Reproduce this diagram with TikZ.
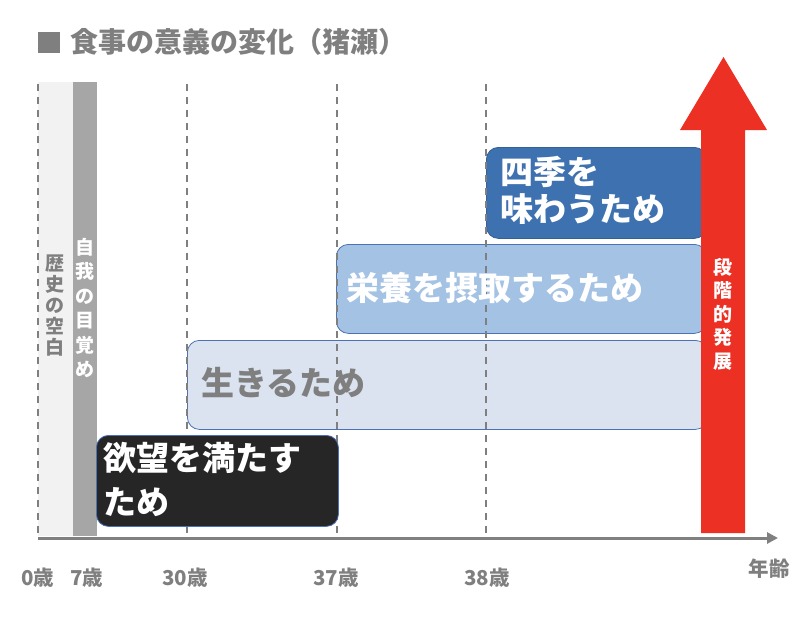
\documentclass[tikz,border=0pt]{standalone}
\usepackage{fontspec}
\setmainfont{Noto Sans CJK JP}
\usetikzlibrary{arrows.meta}
\definecolor{txtgray}{HTML}{7F7F7F}
\definecolor{stripelight}{HTML}{F2F2F2}
\definecolor{stripedark}{HTML}{A6A6A6}
\definecolor{boxdark}{HTML}{3E71B0}
\definecolor{boxmid}{HTML}{A4C2E3}
\definecolor{boxlight}{HTML}{DBE3F0}
\definecolor{boxblack}{HTML}{262626}
\definecolor{boxedge}{HTML}{4A72B5}
\definecolor{arrowred}{HTML}{EC3024}
\definecolor{axisgray}{HTML}{808080}
\tikzset{
  stagebox/.style={draw=boxedge, line width=0.8pt, rounded corners=12pt, anchor=north west, inner sep=0pt},
  boxtext/.style={anchor=west, inner sep=0pt, align=left, font=\bfseries\fontsize{33}{44}\selectfont},
  vtext/.style={align=center, inner sep=0pt, font=\bfseries\fontsize{19}{23.5}\selectfont},
  agelabel/.style={text=txtgray, inner sep=0pt, font=\bfseries\fontsize{20.5}{22}\selectfont},
  guideline/.style={draw=txtgray, line width=1.4pt, dash pattern=on 7pt off 6pt},
}
\begin{document}
\begin{tikzpicture}[x=1pt,y=-1pt]
\useasboundingbox (0,0) rectangle (800,616);
% title
\node[fill=txtgray, minimum width=22pt, minimum height=21pt, inner sep=0pt] (sq) at (49,42) {};
\node[anchor=west, inner sep=0pt, text=txtgray, font=\bfseries\fontsize{28}{30}\selectfont] (title) at (70,42) {食事の意義の変化（猪瀬）};
% stripes
\node[fill=stripelight, minimum width=35pt, minimum height=454pt, inner sep=0pt, anchor=north west] (blank) at (38,82) {};
\node[fill=stripedark, minimum width=24pt, minimum height=454pt, inner sep=0pt, anchor=north west] (self) at (73,82) {};
% light boxes
\node[stagebox, fill=boxlight, minimum width=520pt, minimum height=89pt] (live) at (187,340) {};
\node[stagebox, fill=boxmid, minimum width=370pt, minimum height=89pt] (nutri) at (336,244) {};
\node[stagebox, fill=boxdark, draw=boxdark!85!black, minimum width=220pt, minimum height=91pt] (season) at (486,147) {};
% dashed guides
\coordinate (g0t) at (38,84);  \coordinate (g0b) at (38,536);
\coordinate (g1t) at (187,84); \coordinate (g1b) at (187,536);
\coordinate (g2t) at (337,84); \coordinate (g2b) at (337,536);
\coordinate (g3t) at (486,84); \coordinate (g3b) at (486,536);
\draw[guideline] (g0t) -- (g0b);
\draw[guideline] (g1t) -- (g1b);
\draw[guideline] (g2t) -- (g2b);
\draw[guideline] (g3t) -- (g3b);
% black box
\node[stagebox, fill=boxblack, minimum width=242pt, minimum height=91pt] (desire) at (96,435) {};
% red arrow
\fill[arrowred] (701,533) -- (701,130) -- (680,130) -- (723.5,57) -- (767,130) -- (745,130) -- (745,533) -- cycle;
\coordinate (arrowmid) at (723,314);
% axis
\coordinate (axs) at (38,538);
\coordinate (axe) at (778,538);
\draw[axisgray, line width=3pt, -{Triangle[length=11pt,width=11pt]}] (axs) -- (axe);
% box texts
\node[boxtext, text=white, font=\bfseries\fontsize{33}{44}\selectfont] (tdesire) at (103,479) {欲望を満たす\\ため};
\node[boxtext, text=txtgray] (tlive) at (201,383) {生きるため};
\node[boxtext, text=white] (tnutri) at (346,288) {栄養を摂取するため};
\node[boxtext, text=white, font=\bfseries\fontsize{33}{37}\selectfont] (tseason) at (500,190) {四季を\\味わうため};
% vertical texts
\node[vtext, text=txtgray, font=\bfseries\fontsize{19}{21}\selectfont] (tblank) at (55,306) {歴\\史\\の\\空\\白};
\node[vtext, text=white, font=\bfseries\fontsize{19}{24.5}\selectfont] (tself) at (85,308) {自\\我\\の\\目\\覚\\め};
\node[vtext, text=white] (tstage) at (arrowmid) {段\\階\\的\\発\\展};
% age labels
\node[agelabel] (a0) at (38,578) {0歳};
\node[agelabel] (a7) at (87,578) {7歳};
\node[agelabel] (a30) at (185,578) {30歳};
\node[agelabel] (a37) at (336,578) {37歳};
\node[agelabel] (a38) at (487,578) {38歳};
\node[agelabel] (age) at (769,569) {年齢};
\end{tikzpicture}
\end{document}
